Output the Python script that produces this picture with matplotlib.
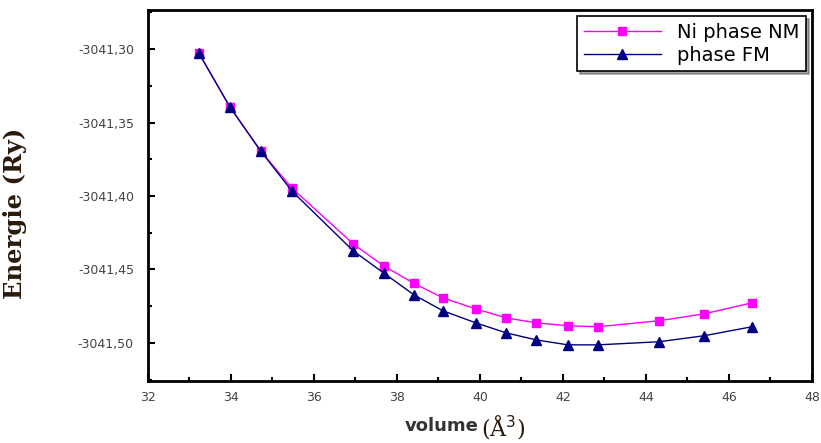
import matplotlib
matplotlib.use('Agg')
import matplotlib.pyplot as plt
from matplotlib.ticker import FuncFormatter, MultipleLocator

# volume (A^3)
volume = [33.23, 33.98, 34.72, 35.47, 36.95, 37.68, 38.41, 39.11,
          39.90, 40.63, 41.35, 42.12, 42.84, 44.31, 45.40, 46.55]
# energies (Ry)
e_nm = [-3041.3027, -3041.3395, -3041.3694, -3041.3946, -3041.4327, -3041.4476,
        -3041.4595, -3041.4694, -3041.4769, -3041.4830, -3041.4864, -3041.4884,
        -3041.4891, -3041.4850, -3041.4803, -3041.4728]
e_fm = [-3041.3027, -3041.3395, -3041.3694, -3041.3966, -3041.4374, -3041.4524,
        -3041.4673, -3041.4782, -3041.4864, -3041.4932, -3041.4980, -3041.5014,
        -3041.5014, -3041.4993, -3041.4952, -3041.4891]

fig = plt.figure(figsize=(8.21, 4.43), dpi=100)
ax = fig.add_axes([0.180, 0.140, 0.809, 0.837])

ax.plot(volume, e_nm, color='#ff00ff', lw=1, marker='s', ms=6,
        mec='#ff00ff', label='Ni phase NM')
ax.plot(volume, e_fm, color='#000080', lw=1, marker='^', ms=6.5,
        mec='#000080', label='phase FM')

ax.set_xlim(32, 48)
ax.set_ylim(-3041.526, -3041.2735)
ax.xaxis.set_major_locator(MultipleLocator(2))
ax.xaxis.set_minor_locator(MultipleLocator(1))
ax.yaxis.set_major_locator(MultipleLocator(0.05))
ax.yaxis.set_minor_locator(MultipleLocator(0.025))
ax.yaxis.set_major_formatter(FuncFormatter(lambda v, p: f'{v:.2f}'.replace('.', ',')))

ax.tick_params(which='both', direction='in', top=False, right=False,
               labelsize=9, labelcolor='#444444', width=1.5)
ax.tick_params(axis='y', pad=10)
ax.tick_params(axis='x', pad=7)
ax.tick_params(which='major', length=5)
ax.tick_params(which='minor', length=3)
for s in ax.spines.values():
    s.set_linewidth(2)

ax.set_ylabel('Energie (Ry)', family='DejaVu Serif', fontweight='bold',
              fontsize=17.5, color='#2a1a0a')
ax.yaxis.set_label_coords(-0.182, 0.453)
fig.text(0.583, 0.026, 'volume', ha='right', fontsize=13, fontweight='bold',
         color='#333333')
fig.text(0.586, 0.018, '(Å$^3$)', ha='left', fontsize=16,
         family='DejaVu Serif', color='#2a1a0a')

leg = ax.legend(loc='upper right', bbox_to_anchor=(0.997, 0.995), frameon=True,
                fancybox=False, shadow=True, fontsize=14, handlelength=4,
                borderpad=0.35, labelspacing=0.2, borderaxespad=0.2)
leg.get_frame().set_edgecolor('black')
leg.get_frame().set_linewidth(1.2)

fig.savefig('out.png', dpi=100)
